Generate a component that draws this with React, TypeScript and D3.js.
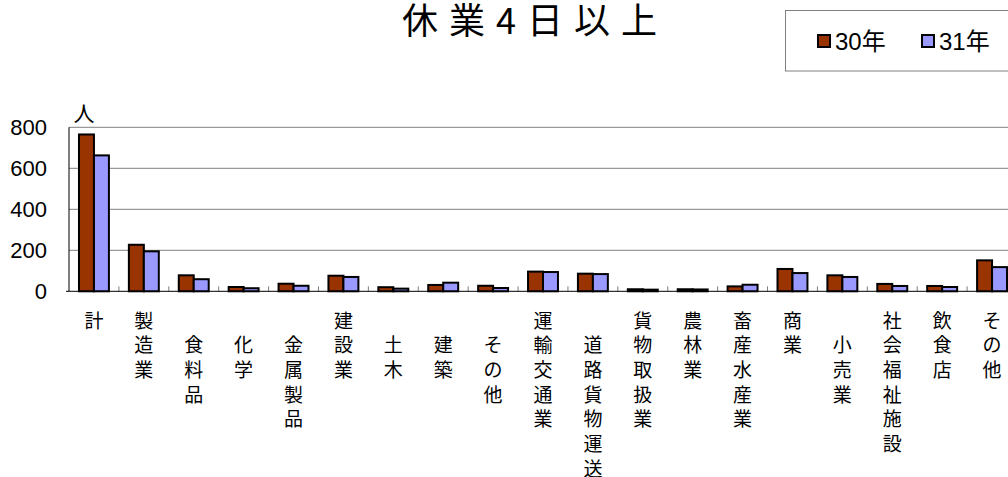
import React from "react";
import * as d3 from "d3";

const categories = ["計", "製造業", "　食料品", "　化学", "　金属製品", "建設業", "　土木", "　建築", "　その他", "運輸交通業", "　道路貨物運送", "貨物取扱業", "農林業", "畜産水産業", "商業", "　小売業", "社会福祉施設", "飲食店", "その他"];
const values30 = [765, 227, 78, 21, 37, 76, 20, 31, 27, 96, 86, 10, 10, 24, 109, 78, 36, 26, 151];
const values31 = [663, 195, 59, 15, 27, 70, 13, 42, 16, 94, 84, 8, 9, 32, 89, 70, 26, 21, 118];
const seriesNames = ["30年", "31年"];
const seriesColors = ["#993300", "#9999FF"];
const yTicks = [0, 200, 400, 600, 800];
const title = "休業4日以上";
const unitLabel = "人";

const W = 1008;
const H = 477;
const plotLeft = 69;
const plotRight = 1017;
const plotTop = 127.3;
const plotBottom = 291.3;

const LATIN = "'Liberation Sans', Arial, 'Noto Sans CJK JP', sans-serif";
const CJK = "'Noto Sans CJK JP', 'Liberation Sans', sans-serif";

export default function App() {
  const series = [values30, values31];
  const x0 = d3.scaleBand<number>().domain(d3.range(categories.length)).range([plotLeft, plotRight]).padding(0);
  const bw = x0.bandwidth();
  const x1 = d3.scaleBand<number>().domain([0, 1]).range([bw * 0.2, bw * 0.8]).padding(0);
  const y = d3.scaleLinear().domain([0, 800]).range([plotBottom, plotTop]);
  const lineStep = 24.7;
  const firstLine = 318.5;

  return (
    <div style={{ position: "absolute", left: 0, top: 0, width: W, height: H, background: "#fff" }}>
      <svg width={W} height={H} style={{ display: "block" }}>
        <rect x={0} y={0} width={W} height={H} fill="#fff" />
        {/* title */}
        <text x={402} y={34} fontFamily={CJK} fontSize={36} textLength={255} lengthAdjust="spacing" fill="#000">
          {title}
        </text>
        {/* legend */}
        <rect x={785.5} y={10.5} width={240} height={60.5} fill="#fff" stroke="#808080" strokeWidth={1} />
        {seriesNames.map((s, i) => {
          const lx = 817 + i * 104;
          return (
            <g key={s}>
              <rect x={lx + 1} y={35} width={12} height={12} fill={seriesColors[i]} stroke="#000" strokeWidth={2} />
              <text x={lx + 18} y={50} fontFamily={LATIN} fontSize={24} fill="#000">
                {s}
              </text>
            </g>
          );
        })}
        {/* gridlines */}
        {yTicks.filter((t) => t > 0).map((t) => (
          <line key={t} x1={plotLeft} x2={plotRight} y1={y(t)} y2={y(t)} stroke="#808080" strokeWidth={1} />
        ))}
        {/* y labels */}
        {yTicks.map((t) => (
          <text key={t} x={47} y={y(t) + 8} textAnchor="end" fontFamily={LATIN} fontSize={22} fill="#000">
            {t}
          </text>
        ))}
        <text x={84} y={112} textAnchor="middle" dominantBaseline="central" fontFamily={CJK} fontSize={21} fill="#000">
          {unitLabel}
        </text>
        {/* category ticks */}
        {d3.range(1, categories.length + 1).map((i) => {
          const xx = plotLeft + i * bw;
          return <line key={i} x1={xx} x2={xx} y1={plotBottom} y2={plotBottom - 5} stroke="#808080" strokeWidth={1} />;
        })}
        {/* bars */}
        {categories.map((c, ci) =>
          series.map((vals, si) => (
            <rect
              key={c + si}
              x={(x0(ci) as number) + (x1(si) as number)}
              y={y(vals[ci])}
              width={x1.bandwidth()}
              height={plotBottom - y(vals[ci])}
              fill={seriesColors[si]}
              stroke="#000"
              strokeWidth={2}
            />
          ))
        )}
        {/* axes */}
        <line x1={plotLeft - 3} x2={plotRight} y1={plotBottom} y2={plotBottom} stroke="#000" strokeWidth={1} />
        <line x1={plotLeft} x2={plotLeft} y1={plotTop} y2={plotBottom} stroke="#000" strokeWidth={1} />
        {/* category labels (stacked vertically, one text per label) */}
        {categories.map((c, ci) => {
          const cx = (x0(ci) as number) + bw / 2;
          const chars = Array.from(c);
          return (
            <text key={"l" + ci} textAnchor="middle" dominantBaseline="central" fontFamily={CJK} fontSize={19} fill="#000">
              {chars.map((ch, k) =>
                ch === "　" ? null : (
                  <tspan key={k} x={cx} y={firstLine + k * lineStep}>
                    {ch}
                  </tspan>
                )
              )}
            </text>
          );
        })}
      </svg>
    </div>
  );
}
